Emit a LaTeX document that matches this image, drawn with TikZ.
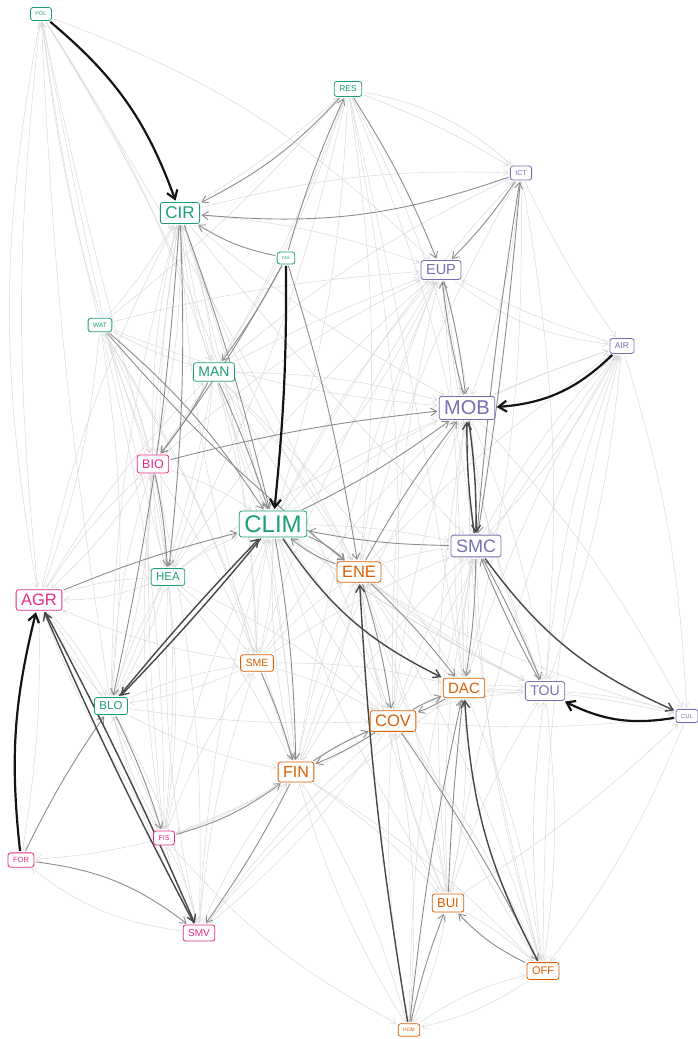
\documentclass[tikz,border=0pt]{standalone}
\usepackage{fontspec}
\setmainfont{Liberation Sans}
\usetikzlibrary{arrows.meta}
\definecolor{cg}{HTML}{1B9E77}
\definecolor{co}{HTML}{D95F02}
\definecolor{cp}{HTML}{7570B3}
\definecolor{ck}{HTML}{E7298A}
\pgfdeclarelayer{edges}
\pgfsetlayers{edges,main}
\tikzset{
 nd/.style n args={2}{draw=#1, text=#1, fill=white, rounded corners=2.5pt, line width=0.8pt, inner xsep=5pt, inner ysep=4.5pt, font=\fontsize{#2}{#2}\selectfont},
 lt/.style={draw=black!16, line width=0.45pt, shorten >=1.5pt, shorten <=1.5pt, -{Straight Barb[length=5pt,width=7pt]}},
 md/.style={draw=black!45, line width=0.9pt, shorten >=1.5pt, shorten <=1.5pt, -{Straight Barb[length=6pt,width=8pt]}},
 dk/.style={draw=black!72, line width=1.4pt, shorten >=1.5pt, shorten <=1.5pt, -{Straight Barb[length=7pt,width=9pt]}},
 hv/.style={draw=black!92, line width=2.2pt, shorten >=1.5pt, shorten <=1.5pt, -{Straight Barb[length=8pt,width=11pt]}},
}
\begin{document}
\begin{tikzpicture}[x=1pt,y=-1pt]
\useasboundingbox (0,0) rectangle (698,1039);
% nodes
\node[nd={cg}{5.5}] (POL) at (41,14) {POL};
\node[nd={cg}{8.5}] (RES) at (348,89) {RES};
\node[nd={cp}{7}] (ICT) at (521,173) {ICT};
\node[nd={cg}{17}] (CIR) at (180,213) {CIR};
\node[nd={cg}{4}] (FAS) at (286,258) {FAS};
\node[nd={cp}{14.5}] (EUP) at (441,270) {EUP};
\node[nd={cg}{6.5}] (WAT) at (100,325) {WAT};
\node[nd={cp}{8.5}] (AIR) at (622,346) {AIR};
\node[nd={cg}{14}] (MAN) at (214,372) {MAN};
\node[nd={cp}{20}] (MOB) at (467,408) {MOB};
\node[nd={ck}{12.5}] (BIO) at (153,464) {BIO};
\node[nd={cg}{24}] (CLIM) at (273,524) {CLIM};
\node[nd={cp}{18}] (SMC) at (476,546) {SMC};
\node[nd={co}{16.5}] (ENE) at (359,572) {ENE};
\node[nd={cg}{11.5}] (HEA) at (168,577) {HEA};
\node[nd={ck}{16.5}] (AGR) at (39,600) {AGR};
\node[nd={co}{10.5}] (SME) at (257,663) {SME};
\node[nd={co}{15}] (DAC) at (464,688) {DAC};
\node[nd={cp}{14}] (TOU) at (545,691) {TOU};
\node[nd={cp}{6}] (CUL) at (687,716) {CUL};
\node[nd={cg}{11.5}] (BLO) at (111,706) {BLO};
\node[nd={co}{16.5}] (COV) at (393,721) {COV};
\node[nd={co}{16}] (FIN) at (296,772) {FIN};
\node[nd={ck}{7}] (FIS) at (164,838) {FIS};
\node[nd={ck}{7.5}] (FOR) at (21,860) {FOR};
\node[nd={co}{13}] (BUI) at (448,903) {BUI};
\node[nd={ck}{10}] (SMV) at (199,933) {SMV};
\node[nd={co}{11}] (OFF) at (543,971) {OFF};
\node[nd={co}{5}] (HOM) at (409,1030) {HOM};
\begin{pgfonlayer}{edges}
% light edges
\foreach \a/\b/\c in {POL/AGR/-10, POL/BLO/-3, POL/MAN/0, POL/CLIM/0, POL/HEA/-2, POL/BIO/-2, POL/ENE/2, POL/EUP/12, AGR/POL/6, BIO/POL/0, WAT/POL/3,
RES/ICT/15, RES/ICT/5, CIR/ICT/8, CIR/RES/-5, WAT/RES/-5, RES/MAN/0, RES/CLIM/0, RES/SMC/0, RES/ENE/0, RES/DAC/2, RES/COV/0, RES/MOB/0, RES/BIO/0, RES/HEA/0,
MAN/ICT/0, ICT/MOB/0, ICT/DAC/0, ICT/TOU/0, ENE/ICT/0, CLIM/ICT/0, ICT/AIR/-5,
CIR/EUP/0, MAN/EUP/3, CLIM/EUP/0, ENE/EUP/0, BIO/EUP/0, COV/EUP/0, DAC/EUP/-2, FIN/EUP/0, SME/EUP/0, TOU/EUP/0, HEA/EUP/0, WAT/EUP/5, EUP/AIR/-15, AIR/EUP/5, EUP/SMC/0, EUP/DAC/0, EUP/CLIM/0,
SMC/AIR/0, TOU/AIR/0, DAC/AIR/0, OFF/AIR/0, COV/AIR/5, ENE/AIR/5, CLIM/AIR/8, MOB/AIR/3, BUI/AIR/0, AIR/CUL/0, AIR/TOU/0, AIR/SMC/0,
AGR/CIR/0, WAT/CIR/-5, BIO/CIR/0, HEA/CIR/0, BLO/CIR/0, MAN/CIR/0, FIS/CIR/0, SME/CIR/0, CLIM/CIR/0, ENE/CIR/0, CIR/MAN/0, CIR/BIO/0, CIR/FIN/0, CIR/SME/0, CIR/MOB/-5, CIR/SMC/-3,
WAT/AGR/0, WAT/BIO/0, WAT/HEA/0, WAT/BLO/0, WAT/FIS/0, WAT/MAN/-5, WAT/MOB/-8, WAT/FIN/0, WAT/SME/0,
MAN/HEA/0, MAN/BLO/0, MAN/FIN/0, MAN/SME/0, MAN/MOB/0, MAN/COV/0, MAN/ENE/0, AGR/MAN/0, MAN/DAC/0,
TOU/MOB/0, DAC/MOB/0, COV/MOB/0, FIN/MOB/0, SME/MOB/0, OFF/MOB/0, BUI/MOB/0, HEA/MOB/0, MOB/TOU/0, MOB/CUL/0,
AGR/BIO/0, BIO/AGR/0, BLO/BIO/0, FIS/BIO/0, HEA/BIO/0, BIO/FIS/0, BIO/SMV/0, BIO/CLIM/0, BIO/FIN/0, BIO/BLO/0,
HEA/CLIM/0, SME/CLIM/0, COV/CLIM/0, FIN/CLIM/0, TOU/CLIM/5, CLIM/COV/0, CLIM/SMC/5, CLIM/TOU/-5, CLIM/CUL/-8, BUI/CLIM/0, CLIM/SME/0, FIS/CLIM/0, SMV/CLIM/0,
ENE/SMC/0, COV/SMC/0, DAC/SMC/0, FIN/SMC/0, BUI/SMC/0, OFF/SMC/0, SME/SMC/5, HOM/SMC/0,
COV/ENE/0, DAC/ENE/0, BUI/ENE/0, FIN/ENE/0, SME/ENE/0, OFF/ENE/0, TOU/ENE/0, ENE/FIN/0, ENE/BUI/0, ENE/OFF/0, ENE/TOU/-5,
HEA/AGR/10, AGR/HEA/0, HEA/BLO/0, HEA/FIS/0, HEA/SME/0, HEA/FIN/0, HEA/COV/0, BLO/HEA/0, SMV/HEA/0,
BLO/AGR/0, FIS/AGR/0, AGR/FIS/0, AGR/BLO/0, AGR/FOR/5, SME/AGR/0,
SME/COV/0, SME/DAC/0, BLO/SME/0, FIS/SME/0, SMV/SME/0, SME/BLO/0,
DAC/TOU/0, TOU/DAC/5, BUI/TOU/0, DAC/BUI/0, DAC/OFF/0, DAC/CUL/5, FIN/DAC/5,
COV/TOU/0, OFF/TOU/0, TOU/OFF/0, CUL/OFF/0, COV/CUL/-5, TOU/CUL/0, BUI/CUL/-5,
BLO/FIN/-8, FIS/BLO/0, BLO/COV/-5, BLO/SMV/0, SMV/BLO/0,
COV/BUI/0, COV/HOM/0, COV/SMV/0, COV/OFF/0, BUI/COV/0, HOM/COV/0, COV/FIS/5,
FIN/FIS/0, SMV/FIN/0, FIN/BUI/0, FIN/OFF/0, FIN/HOM/0, HOM/FIN/0,
FIS/FOR/5, FIS/SMV/0, SMV/FIS/0, FIS/HOM/-10,
BUI/OFF/0, BUI/HOM/0, HOM/OFF/10, OFF/HOM/10, SMV/DAC/0, SMV/COV/5, SMV/FOR/15}
  {\ifnum\c=0 \def\bb{7}\else\let\bb\c\fi
   \draw[lt] (\a) to[bend left=\bb] (\b);}
% medium edges
\foreach \a/\b/\c in {RES/EUP/5, ICT/EUP/5, ICT/CIR/12, RES/CIR/10, FAS/CIR/10, FAS/BIO/0, MAN/BIO/0, FAS/ENE/0, FAS/RES/0, WAT/CLIM/8, MAN/CLIM/3, CIR/CLIM/3, CIR/HEA/0, CIR/BLO/0, AGR/CLIM/0, BIO/HEA/0, SMC/CLIM/5, CLIM/MOB/-5, ENE/CLIM/10, CLIM/ENE/10, ENE/DAC/0, ENE/COV/0, SMC/TOU/3, TOU/SMC/3, SMC/DAC/0, DAC/COV/5, COV/DAC/5, COV/FIN/5, FIN/COV/5, SME/FIN/0, CLIM/FIN/0, FIN/SMV/0, FIS/FIN/-10, FOR/BLO/0, FOR/SMV/15, HOM/DAC/3, BUI/DAC/2, HOM/BUI/0, COV/OFF/0, OFF/BUI/10, ENE/MOB/0, BIO/MOB/0, WAT/ENE/-5, BLO/FIS/0, EUP/MOB/4, MOB/EUP/4, FAS/MAN/0, ICT/SMC/2, SMC/ICT/2}
  {\ifnum\c=0 \def\bb{4}\else\let\bb\c\fi
   \draw[md] (\a) to[bend left=\bb] (\b);}
% dark edges
\foreach \a/\b/\c in {AGR/SMV/2, SMV/AGR/2, BLO/CLIM/2, CLIM/BLO/2, CLIM/DAC/-15, MOB/SMC/4, SMC/MOB/4, OFF/DAC/12, SMC/CUL/-15, HOM/ENE/3}
  \draw[dk] (\a) to[bend left=\c] (\b);
% heavy edges
\foreach \a/\b/\c in {POL/CIR/15, FAS/CLIM/3, AIR/MOB/20, CUL/TOU/18, FOR/AGR/10}
  \draw[hv] (\a) to[bend left=\c] (\b);
\end{pgfonlayer}
\end{tikzpicture}
\end{document}
